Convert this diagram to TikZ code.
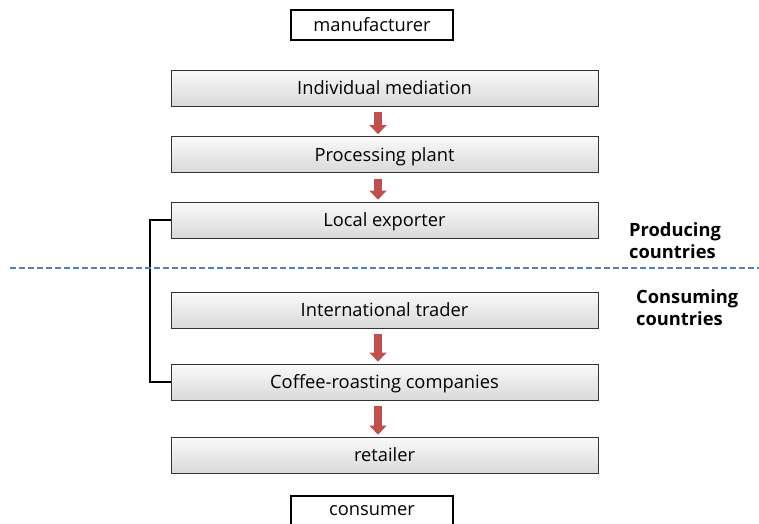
\documentclass[tikz,border=0pt]{standalone}
\usepackage{fontspec}
\setmainfont{Open Sans}
\usetikzlibrary{arrows.meta}
\definecolor{arrred}{HTML}{C0504D}
\definecolor{dashblue}{HTML}{4F81BD}
\tikzset{
  stage/.style={draw=black!80, line width=0.8pt, top color=gray!4, bottom color=gray!30,
    minimum width=427pt, minimum height=36pt, inner sep=0pt, text depth=0pt, text height=13pt,
    font=\fontsize{18.3}{22}\selectfont},
  endbox/.style={draw=black, line width=1.3pt, fill=white, minimum width=162pt, minimum height=30pt,
    inner sep=0pt, font=\fontsize{18.3}{22}\selectfont},
  flow/.style={draw=arrred, line width=8pt, -{Triangle[width=17pt,length=9pt]}, shorten <=6pt, shorten >=2pt},
  sidelabel/.style={font=\bfseries\fontsize{18.3}{22}\selectfont, align=left, anchor=north west, inner sep=0pt},
}
\begin{document}
\begin{tikzpicture}[x=1pt,y=-1pt]
\clip (0,0) rectangle (759,523);
\fill[white] (0,0) rectangle (759,523);
\node[endbox] (man) at (372,25) {manufacturer};
\node[stage] (im) at (384.5,88) {Individual mediation};
\node[stage] (pp) at (384.5,154.5) {Processing plant};
\node[stage] (le) at (384.5,220) {Local exporter};
\node[stage] (it) at (384.5,310) {International trader};
\node[stage] (cr) at (384.5,382) {Coffee-roasting companies};
\node[stage] (re) at (384.5,455) {retailer};
\node[endbox, minimum height=34pt] (con) at (372,513) {\raisebox{5pt}{consumer}};
\draw[flow] ([xshift=-6.5pt]im.south) -- ([xshift=-6.5pt]pp.north);
\draw[flow] ([xshift=-6.5pt]pp.south) -- ([xshift=-6.5pt]le.north);
\draw[flow] ([xshift=-6.5pt]it.south) -- ([xshift=-6.5pt]cr.north);
\draw[flow] ([xshift=-6.5pt]cr.south) -- ([xshift=-6.5pt]re.north);
\draw[line width=2.2pt] (le.west) -- ++(-21,0) |- (cr.west);
\coordinate (dl) at (10,268);
\coordinate (dr) at (759,268);
\draw[dashblue, line width=1.4pt, dash pattern=on 6pt off 3pt] (dl) -- (dr);
\node[sidelabel] (prod) at (629,222) {Producing\\countries};
\node[sidelabel] (cons) at (636,289) {Consuming\\countries};
\end{tikzpicture}
\end{document}
